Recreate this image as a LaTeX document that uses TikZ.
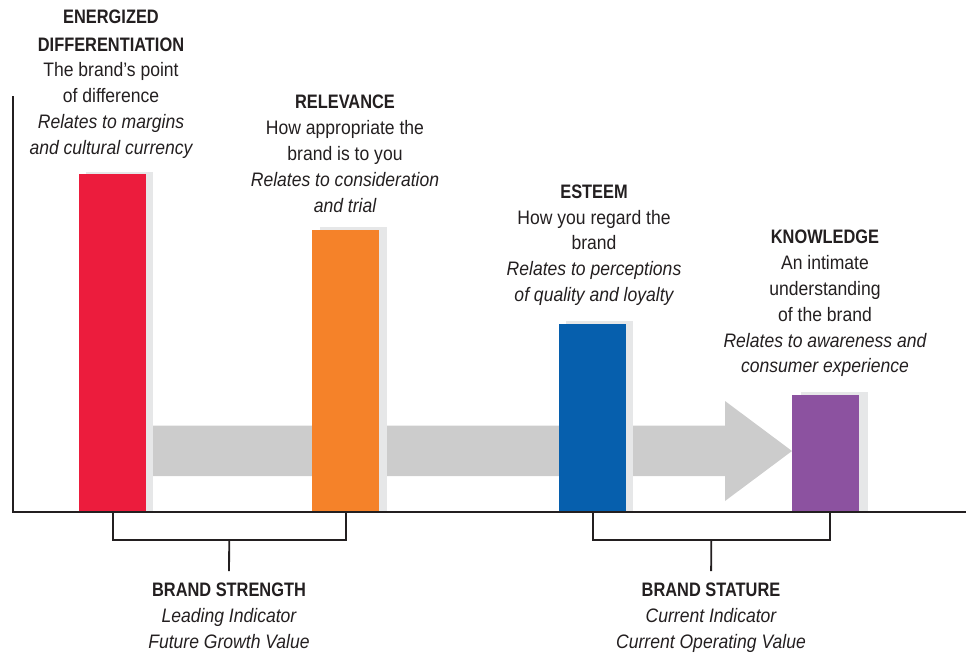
\documentclass[tikz,border=0pt]{standalone}
\usepackage{fontspec}
\setmainfont{Liberation Sans}[FakeStretch=0.9]
\newfontfamily\hdfont{Liberation Sans Bold}[FakeStretch=0.84]
\newcommand{\hdtxt}[1]{{\hdfont #1}}
\newcommand{\ittxt}[1]{{\itshape #1}}
\usetikzlibrary{calc}
\definecolor{ink}{HTML}{231F20}
\definecolor{cred}{HTML}{EC1C3D}
\definecolor{corange}{HTML}{F58229}
\definecolor{cblue}{HTML}{065FAD}
\definecolor{cpurple}{HTML}{8C52A0}
\definecolor{bandgray}{HTML}{CCCCCC}
\definecolor{shade}{HTML}{E6E7E8}
\tikzset{
  txt/.style={align=center, inner sep=0pt, anchor=north, text=ink,
    font=\fontsize{19.5}{25.8}\selectfont},
  bar/.style={draw=none, inner sep=0pt, minimum width=67pt, anchor=south west},
  shadowfill/.style={fill=shade, draw=none},
  axisline/.style={draw=ink, line width=1.8pt},
  bracketline/.style={draw=ink, line width=1.8pt},
}
\begin{document}
\begin{tikzpicture}[x=1pt,y=-1pt]
\useasboundingbox (0,0) rectangle (966,653);
% growth arrow
\fill[bandgray] (150,425.5) -- (725,425.5) -- (725,401) -- (792,451) -- (725,501) -- (725,476) -- (150,476) -- cycle;
% shadows
\fill[shadowfill] (86,172) rectangle (153,512);
\fill[shadowfill] (320,227) rectangle (387,512);
\fill[shadowfill] (566,321) rectangle (633,512);
\fill[shadowfill] (801,392) rectangle (868,512);
% bars
\node[bar, fill=cred, minimum height=338pt] (red) at (79,512) {};
\node[bar, fill=corange, minimum height=282pt] (orange) at (312,512) {};
\node[bar, fill=cblue, minimum height=188pt] (blue) at (559,512) {};
\node[bar, fill=cpurple, minimum height=117pt] (purple) at (792,512) {};
% axes
\coordinate (axtop) at (13,96);
\coordinate (origin) at (13,512);
\coordinate (axend) at (966,512);
\draw[axisline] (axtop) -- (origin) -- (axend);
% labels above bars
\node[txt] (ed) at (111,10) {\hdtxt{ENERGIZED}\\[1.5pt]\hdtxt{DIFFERENTIATION}\\The brand’s point\\of difference\\\ittxt{Relates to margins}\\\ittxt{and cultural currency}};
\node[txt] (rel) at (345,95) {\hdtxt{RELEVANCE}\\How appropriate the\\brand is to you\\\ittxt{Relates to consideration}\\\ittxt{and trial}};
\node[txt] (est) at (594,184.5) {\hdtxt{ESTEEM}\\How you regard the\\brand\\\ittxt{Relates to perceptions}\\\ittxt{of quality and loyalty}};
\node[txt] (kn) at (825,230) {\hdtxt{KNOWLEDGE}\\An intimate\\understanding\\of the brand\\\ittxt{Relates to awareness and}\\\ittxt{consumer experience}};
% bottom labels
\node[txt] (strength) at (229,583) {\hdtxt{BRAND STRENGTH}\\\ittxt{Leading Indicator}\\\ittxt{Future Growth Value}};
\node[txt] (stature) at (711,583) {\hdtxt{BRAND STATURE}\\\ittxt{Current Indicator}\\\ittxt{Current Operating Value}};
% brackets
\coordinate (bl1) at (red.south);
\coordinate (bl2) at (orange.south);
\coordinate (br1) at (blue.south);
\coordinate (br2) at (830,512);
\draw[bracketline] (bl1) -- ++(0,28) coordinate (blc) -| (bl2);
\draw[bracketline] (br1) -- ++(0,28) coordinate (brc) -| (br2);
\draw[bracketline, shorten >=12pt] ($(blc)!0.5!(bl2|-blc)$) -- (strength.north);
\draw[bracketline, shorten >=12pt] ($(brc)!0.5!(br2|-brc)$) -- (stature.north);
\end{tikzpicture}
\end{document}
